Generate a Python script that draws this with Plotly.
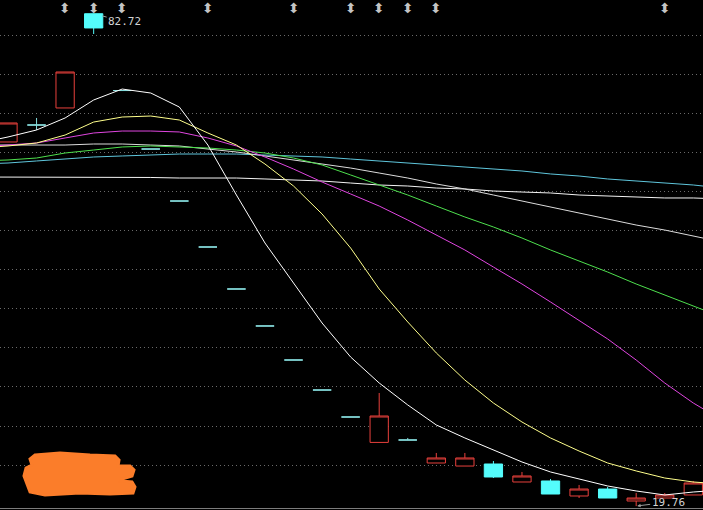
import plotly.graph_objects as go

# ---------------- data ----------------
idx = list(range(25))
opens  = [66.32, 68.49, 70.67, 82.72, 72.90, 65.42, 58.77, 52.89, 47.52, 42.79, 38.44, 34.60, 31.15,
          27.90, 28.21, 25.27, 24.88, 25.14, 22.84, 22.97, 21.05, 21.94, 20.41, 20.79, 21.18]
highs  = [68.75, 69.39, 75.27, 82.72, 72.90, 65.42, 58.77, 52.89, 47.52, 42.79, 38.44, 34.60, 31.15,
          34.22, 28.47, 26.55, 26.55, 25.52, 24.12, 23.22, 22.46, 22.20, 21.43, 21.43, 22.97]
lows   = [66.32, 67.85, 70.67, 80.13, 72.90, 65.42, 58.77, 52.89, 47.52, 42.79, 38.44, 34.60, 31.15,
          27.90, 28.21, 25.27, 24.88, 23.35, 22.84, 21.30, 20.79, 20.79, 19.76, 20.79, 21.18]
closes = [68.75, 68.49, 75.27, 80.90, 72.90, 65.42, 58.77, 52.89, 47.52, 42.79, 38.44, 34.60, 31.15,
          31.28, 28.21, 25.91, 25.91, 23.48, 23.61, 21.30, 21.94, 20.79, 20.79, 21.18, 22.71]

up_idx = [0, 2, 13, 15, 16, 18, 20, 22, 23, 24]
down_idx = [3, 17, 19, 21]
flat_idx = [1, 4, 5, 6, 7, 8, 9, 10, 11, 12, 14]

# moving averages sampled at bar positions -1 .. 25
ma_x = list(range(-1, 26))
ma5 = [66.19, 66.96, 67.85, 69.39, 71.69, 73.09, 72.58, 70.79, 65.93, 59.54, 53.40, 48.29, 43.17, 38.82,
       35.50, 32.69, 30.13, 28.47, 26.93, 25.40, 24.12, 23.22, 22.33, 21.69, 21.18, 21.56, 21.82]
ma10 = [65.55, 65.81, 66.19, 67.21, 68.87, 69.51, 69.64, 69.13, 67.47, 65.93, 63.50, 60.69, 57.11, 52.76,
        47.52, 43.30, 39.34, 35.88, 32.94, 30.51, 28.47, 26.80, 25.27, 24.25, 23.35, 22.84, 22.58]
ma20 = [65.68, 65.93, 66.19, 66.83, 67.47, 67.72, 67.72, 67.60, 66.83, 65.81, 64.40, 62.86, 61.20, 59.67,
        58.13, 56.34, 54.42, 52.51, 50.33, 48.16, 45.86, 43.55, 41.13, 38.44, 35.50, 32.94, 30.77]
ma30 = [63.89, 64.02, 64.27, 64.91, 65.29, 65.68, 65.81, 65.68, 65.55, 65.29, 64.91, 64.27, 63.38, 62.10,
        60.82, 59.54, 58.13, 56.73, 55.45, 54.04, 52.51, 51.10, 49.69, 48.16, 46.75, 45.35, 43.94]
ma60 = [65.93, 65.93, 65.93, 65.93, 66.06, 66.06, 65.93, 65.81, 65.42, 65.04, 64.53, 64.02, 63.50, 62.99,
        62.35, 61.71, 60.95, 60.31, 59.54, 58.77, 58.00, 57.24, 56.47, 55.70, 55.06, 54.30, 53.53]
ma120 = [63.50, 63.63, 63.89, 64.14, 64.40, 64.53, 64.65, 64.78, 64.78, 64.78, 64.65, 64.53, 64.40, 64.14,
         63.89, 63.63, 63.38, 63.12, 62.86, 62.61, 62.23, 61.97, 61.59, 61.33, 61.07, 60.82, 60.43]
ma250 = [61.84, 61.84, 61.84, 61.84, 61.84, 61.84, 61.78, 61.71, 61.71, 61.71, 61.59, 61.46, 61.33, 61.07,
         60.82, 60.69, 60.43, 60.31, 60.05, 59.92, 59.80, 59.54, 59.41, 59.28, 59.16, 59.16, 59.03]

event_idx = [2, 3, 4, 7, 10, 12, 13, 14, 15, 23]
grid_vals = [25, 30, 35, 40, 45, 50, 55, 60, 65, 70, 75, 80]
high_label = "82.72"
low_label = "19.76"
high_bar, low_bar = 3, 22

# ---------------- styling ----------------
RED = "#e8403c"
CYAN = "#54fcfc"
FLAT = "#86dcdc"
W, H = 703, 510
MB = 2
Y_RANGE = [19.514, 84.476]
X_RANGE = [-0.28, 24.34]


def sub(lst, ids):
    return [lst[i] for i in ids]


fig = go.Figure()


def add_candles(ids, line_color, fill_color):
    style = dict(line=dict(color=line_color, width=1), fillcolor=fill_color)
    fig.add_trace(go.Candlestick(
        x=ids, open=sub(opens, ids), high=sub(highs, ids), low=sub(lows, ids), close=sub(closes, ids),
        increasing=style, decreasing=style, whiskerwidth=0, hoverinfo="skip", showlegend=False))


add_candles(up_idx, RED, "#000000")
add_candles(down_idx, CYAN, CYAN)
add_candles(flat_idx, FLAT, FLAT)

ma_specs = [
    (ma250, "#f4f4f4"),
    (ma120, "#5fc6dc"),
    (ma60, "#dcdcdc"),
    (ma30, "#4ee04e"),
    (ma20, "#e046e0"),
    (ma10, "#ffff8c"),
    (ma5, "#ffffff"),
]
for vals, col in ma_specs:
    fig.add_trace(go.Scatter(x=ma_x, y=vals, mode="lines", line=dict(color=col, width=1),
                             hoverinfo="skip", showlegend=False))

annotations = []
for i in event_idx:
    annotations.append(dict(x=i, y=1, xref="x", yref="paper", yanchor="top", yshift=2,
                            text="\u2b0d", showarrow=False,
                            font=dict(family="DejaVu Sans", size=14, color="#c4c4c4")))

annotations.append(dict(x=high_bar, y=highs[high_bar], xref="x", yref="y", text=high_label,
                        showarrow=True, arrowhead=0, arrowwidth=1, arrowcolor="#9a9a9a",
                        ax=31, ay=8, standoff=9,
                        font=dict(family="DejaVu Sans Mono", size=11, color="#d2d2d2")))
annotations.append(dict(x=low_bar, y=lows[low_bar], xref="x", yref="y", text=low_label,
                        showarrow=True, arrowhead=2, arrowsize=0.7, arrowwidth=1, arrowcolor="#9a9a9a",
                        ax=32, ay=-4, standoff=1,
                        font=dict(family="DejaVu Sans Mono", size=11, color="#d2d2d2")))

# orange redaction brush stroke (pixel outline converted to paper coordinates)
blob_px = [(35, 455), (60, 453), (90, 455), (115, 456), (119, 460), (118, 466), (130, 466), (134, 470),
           (132, 476), (122, 479), (121, 481), (132, 482), (135, 487), (133, 493), (110, 494), (80, 493),
           (45, 495), (30, 492), (27, 484), (24, 476), (26, 468), (32, 465), (30, 459)]
plot_h = H - MB
path = "M " + " L ".join(f"{x / W:.4f},{1 - y / plot_h:.4f}" for x, y in blob_px) + " Z"
shapes = [dict(type="path", xref="paper", yref="paper", path=path, fillcolor="#fb7d2a",
               line=dict(color="#fb7d2a", width=3), layer="above")]

fig.update_layout(
    width=W, height=H,
    margin=dict(l=0, r=0, t=0, b=MB, pad=0),
    paper_bgcolor="#000000", plot_bgcolor="#000000",
    showlegend=False, hovermode=False,
    boxgap=0.36, boxgroupgap=0,
    annotations=annotations, shapes=shapes,
    xaxis=dict(range=X_RANGE, showgrid=False, zeroline=False, showticklabels=False, ticks="",
               showline=True, linecolor="#7c7c7c", linewidth=1, rangeslider=dict(visible=False),
               fixedrange=True),
    yaxis=dict(range=Y_RANGE, tickvals=grid_vals, showticklabels=False, ticks="", zeroline=False,
               showgrid=True, gridcolor="#6a6a6a", gridwidth=1, griddash="1px,3px",
               showline=False, fixedrange=True),
)

fig.write_html("out.html", config={"displayModeBar": False, "staticPlot": True})
